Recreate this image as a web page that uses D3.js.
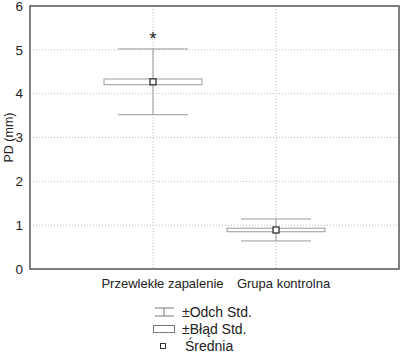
<!DOCTYPE html>
<html>
<head>
<meta charset="utf-8">
<script src="https://cdn.jsdelivr.net/npm/d3@7"></script>
<style>
  body { margin: 0; background: #fff; }
  text { font-family: "Liberation Sans", Arial, sans-serif; fill: #222; }
</style>
</head>
<body>
<div class="chart"></div>
<script>
var categories = ["Przewlekłe zapalenie", "Grupa kontrolna"];
var means = [4.27, 0.89];
var stdErr = [0.065, 0.04];
var stdDev = [0.75, 0.25];
var yTicks = [0, 1, 2, 3, 4, 5, 6];
var legendLabels = ["±Odch Std.", "±Błąd Std.", "Średnia"];

var width = 400, height = 353;
var margin = {top: 6, right: 1, bottom: 84, left: 30};
var w = width - margin.left - margin.right;
var h = height - margin.top - margin.bottom;

var svg = d3.select(".chart").append("svg")
  .attr("width", width)
  .attr("height", height);

var g = svg.append("g")
  .attr("transform", "translate(" + margin.left + "," + margin.top + ")");

// x: categories sit at 1 and 2 on a 0..3 axis
var x = d3.scaleLinear().domain([0, 3]).range([0, w]);
var y = d3.scaleLinear().domain([0, 6]).range([h, 0]);

// grid
g.selectAll(".hgrid")
  .data(yTicks.filter(function(d) { return d > 0 && d < 6; }))
  .enter().append("line")
  .attr("x1", 0).attr("x2", w)
  .attr("y1", function(d) { return y(d); })
  .attr("y2", function(d) { return y(d); })
  .attr("stroke", "#bbb")
  .attr("stroke-dasharray", "1,2");

g.selectAll(".vgrid")
  .data(categories)
  .enter().append("line")
  .attr("x1", function(d, i) { return x(i + 1); })
  .attr("x2", function(d, i) { return x(i + 1); })
  .attr("y1", 0).attr("y2", h)
  .attr("stroke", "#bbb")
  .attr("stroke-dasharray", "1,2");

// y axis labels
var yAxis = g.append("g")
  .call(d3.axisLeft(y).tickValues(yTicks).tickSize(0).tickPadding(7)
    .tickFormat(d3.format("d")));
yAxis.select(".domain").remove();
yAxis.selectAll("text")
  .style("font-size", "13.5px")
  .style("font-family", "Liberation Sans, Arial, sans-serif")
  .attr("fill", "#222");

// x labels
var xAxis = g.append("g")
  .attr("transform", "translate(0," + h + ")")
  .call(d3.axisBottom(x).tickValues([1, 2]).tickSize(0).tickPadding(10)
    .tickFormat(function(d) { return categories[d - 1]; }));
xAxis.select(".domain").remove();
xAxis.selectAll("text")
  .attr("dx", function(d) { return d === 1 ? 9 : 7; })
  .style("font-size", "13px")
  .style("font-family", "Liberation Sans, Arial, sans-serif")
  .attr("fill", "#222");

// y title
svg.append("text")
  .attr("transform", "translate(9," + (margin.top + h / 2) + ") rotate(-90)")
  .attr("dy", "0.35em")
  .attr("text-anchor", "middle")
  .style("font-size", "12.5px")
  .text("PD (mm)");

// frame
g.append("rect")
  .attr("x", 0).attr("y", 0)
  .attr("width", w).attr("height", h)
  .attr("fill", "none")
  .attr("stroke", "#555")
  .attr("stroke-width", 1.5);

var boxHalf = 49, capHalf = 35;

var groups = g.selectAll(".grp")
  .data(categories)
  .enter().append("g")
  .attr("class", "grp");

// whiskers (std dev)
groups.append("line")
  .attr("x1", function(d, i) { return x(i + 1); })
  .attr("x2", function(d, i) { return x(i + 1); })
  .attr("y1", function(d, i) { return y(means[i] + stdDev[i]); })
  .attr("y2", function(d, i) { return y(means[i] - stdDev[i]); })
  .attr("stroke", "#999");

[1, -1].forEach(function(s) {
  groups.append("line")
    .attr("x1", function(d, i) { return x(i + 1) - capHalf; })
    .attr("x2", function(d, i) { return x(i + 1) + capHalf; })
    .attr("y1", function(d, i) { return y(means[i] + s * stdDev[i]); })
    .attr("y2", function(d, i) { return y(means[i] + s * stdDev[i]); })
    .attr("stroke", "#999");
});

// box (std error)
groups.append("rect")
  .attr("x", function(d, i) { return x(i + 1) - boxHalf; })
  .attr("width", boxHalf * 2)
  .attr("y", function(d, i) { return y(means[i] + stdErr[i]); })
  .attr("height", function(d, i) { return y(means[i] - stdErr[i]) - y(means[i] + stdErr[i]); })
  .attr("fill", "#fff")
  .attr("stroke", "#999");

groups.append("line")
  .attr("x1", function(d, i) { return x(i + 1); })
  .attr("x2", function(d, i) { return x(i + 1); })
  .attr("y1", function(d, i) { return y(means[i] + stdErr[i]); })
  .attr("y2", function(d, i) { return y(means[i] - stdErr[i]); })
  .attr("stroke", "#999");

// mean marker
groups.append("rect")
  .attr("x", function(d, i) { return x(i + 1) - 3; })
  .attr("y", function(d, i) { return y(means[i]) - 3; })
  .attr("width", 6).attr("height", 6)
  .attr("fill", "#fff")
  .attr("stroke", "#222")
  .attr("stroke-width", 1.2);

// significance marker
g.append("text")
  .attr("x", x(1))
  .attr("y", y(means[0] + stdDev[0]) - 4)
  .attr("text-anchor", "middle")
  .style("font-size", "18px")
  .text("*");

// legend
var legend = svg.append("g");
var rowsY = [312, 329, 346];

legend.append("line").attr("x1", 164).attr("x2", 164)
  .attr("y1", rowsY[0] - 4).attr("y2", rowsY[0] + 4).attr("stroke", "#777");
legend.append("line").attr("x1", 155).attr("x2", 174)
  .attr("y1", rowsY[0] - 4).attr("y2", rowsY[0] - 4).attr("stroke", "#777");
legend.append("line").attr("x1", 155).attr("x2", 174)
  .attr("y1", rowsY[0] + 4).attr("y2", rowsY[0] + 4).attr("stroke", "#777");

legend.append("rect").attr("x", 153.5).attr("y", rowsY[1] - 3.5)
  .attr("width", 21).attr("height", 7)
  .attr("fill", "#fff").attr("stroke", "#777");

legend.append("rect").attr("x", 160.5).attr("y", rowsY[2] - 2.5)
  .attr("width", 5).attr("height", 5)
  .attr("fill", "#fff").attr("stroke", "#333");

legend.selectAll(".ltext")
  .data(legendLabels)
  .enter().append("text")
  .attr("x", function(d, i) { return i === 2 ? 185 : 182; })
  .attr("y", function(d, i) { return rowsY[i]; })
  .attr("dy", "0.35em")
  .style("font-size", "14px")
  .text(function(d) { return d; });
</script>
</body>
</html>
